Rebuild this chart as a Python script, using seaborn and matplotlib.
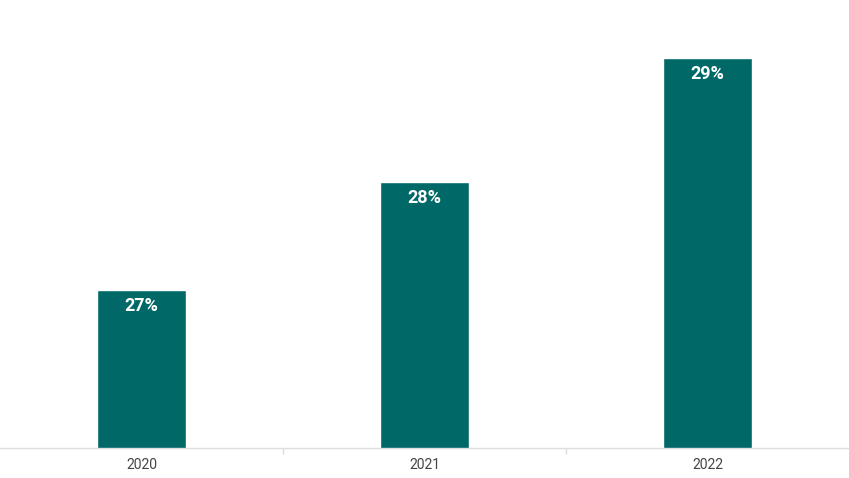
import matplotlib
matplotlib.use("Agg")
import matplotlib.pyplot as plt
import seaborn as sns
import pandas as pd
from matplotlib.ticker import FixedLocator

years = ["2020", "2021", "2022"]
values = [27.1, 28.2, 29.46]
labels = ["27%", "28%", "29%"]

sns.set_theme(style="white")
plt.rcParams['font.family'] = ['Roboto', 'DejaVu Sans']

df = pd.DataFrame({"year": years, "value": values})

fig = plt.figure(figsize=(8.49, 4.78), dpi=100)
ax = fig.add_axes([0, 1 - 448 / 478, 1, 448 / 478])
sns.barplot(data=df, x="year", y="value", color="#006968", saturation=1,
            width=0.312, ax=ax)

ax.set_ylim(25.49, 30.05)
ax.set_xlim(-0.5, 2.5)
ax.set_xlabel("")
ax.set_ylabel("")
ax.set_yticks([])
for s in ["top", "left", "right"]:
    ax.spines[s].set_visible(False)
ax.spines["bottom"].set_color("#dddddd")
ax.spines["bottom"].set_linewidth(1)
ax.tick_params(axis="x", which="major", length=0, labelsize=10, colors="#444444", pad=7)
ax.xaxis.set_minor_locator(FixedLocator([0.5, 1.5]))
ax.tick_params(axis="x", which="minor", length=4, width=1, color="#dddddd", bottom=True)

for i, (v, lab) in enumerate(zip(values, labels)):
    ax.annotate(lab, (i, v), xytext=(0, -16), textcoords="offset pixels",
                ha="center", va="center", color="white", fontsize=13, fontweight="bold")

fig.savefig("out.png", dpi=100)
